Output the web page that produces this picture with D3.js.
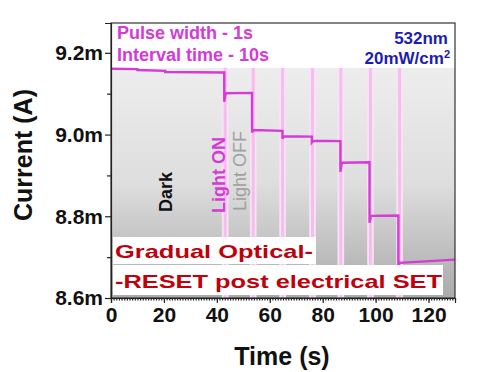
<!DOCTYPE html>
<html><head><meta charset="utf-8">
<script src="https://cdn.jsdelivr.net/npm/d3@7"></script>
<style>
html,body{margin:0;padding:0;background:#fff;}
svg{display:block;font-family:"Liberation Sans",Arial,sans-serif;}
</style></head>
<body>
<svg id="c" width="498" height="372"></svg>
<script>
// ---- data ----
const stepTimes  = [0, 10, 20.5, 42.8, 53.3, 64.8, 75.9, 86.7, 97.7, 108.6];
const levelStart = [9.161, 9.158, 9.153, 9.101, 9.011, 8.996, 8.985, 8.931, 8.801, 8.686];
const levelEnd   = [9.160, 9.156, 9.152, 9.102, 9.009, 8.995, 8.984, 8.932, 8.802, 8.694];
const spikeVals  = [null, null, null, 9.080, 9.005, 8.990, 8.981, 8.909, 8.784, 8.677];
const endTime = 130;
const pulseStarts = [42.3, 52.9, 64.0, 75.3, 86.0, 97.2, 108.2];
const pulseWidth = 1.7;
const xTicks = [0, 20, 40, 60, 80, 100, 120];
const yTicks = [8.6, 8.8, 9.0, 9.2];
const yTickLabels = ["8.6m", "8.8m", "9.0m", "9.2m"];
const yMinor = [8.7, 8.9, 9.1];
const bgTopValue = 9.163;

const svg = d3.select("#c");
const L = 111, R = 455, T = 23, B = 298;
const x = d3.scaleLinear().domain([0, 130]).range([L, R]);
const y = d3.scaleLinear().domain([8.6, 9.273]).range([B, T]);

// gradient
const defs = svg.append("defs");
const g = defs.append("linearGradient").attr("id","bg").attr("x1",0).attr("x2",0).attr("y1",0).attr("y2",1);
g.append("stop").attr("offset","0").attr("stop-color","#ededed");
g.append("stop").attr("offset","0.5").attr("stop-color","#dedede");
g.append("stop").attr("offset","1").attr("stop-color","#aaaaaa");

svg.append("rect").attr("x",L).attr("y",y(bgTopValue)).attr("width",R-L).attr("height",B-y(bgTopValue)).attr("fill","url(#bg)");

// light pulses
const bands = svg.append("g");
pulseStarts.forEach(s=>{
  bands.append("rect").attr("x",x(s-0.4)).attr("y",y(bgTopValue)).attr("width",x(s+pulseWidth+0.4)-x(s-0.4)).attr("height",B-y(bgTopValue)).attr("fill","#f9e2f6");
  bands.append("rect").attr("x",x(s+0.3)).attr("y",y(bgTopValue)).attr("width",x(s+pulseWidth-0.3)-x(s+0.3)).attr("height",B-y(bgTopValue)).attr("fill","#f4bdee");
});

// current trace
const pts = [];
stepTimes.forEach((t,i)=>{
  const tEnd = i < stepTimes.length-1 ? stepTimes[i+1] : endTime;
  if (spikeVals[i] !== null) { pts.push([t, spikeVals[i]]); pts.push([t+0.5, levelStart[i]]); }
  else pts.push([t, levelStart[i]]);
  pts.push([tEnd, levelEnd[i]]);
});
svg.append("path").datum(pts)
  .attr("d", d3.line().x(d=>x(d[0])).y(d=>y(d[1])))
  .attr("fill","none").attr("stroke","#d43cd4").attr("stroke-width",2.4).attr("stroke-linejoin","miter");

// frame
svg.append("rect").attr("x",L).attr("y",T).attr("width",R-L).attr("height",B-T).attr("fill","none").attr("stroke","#333").attr("stroke-width",1.2);

// axes
const xAxis = svg.append("g").attr("transform",`translate(0,${B})`)
  .call(d3.axisBottom(x).tickValues(xTicks).tickFormat(d3.format("d")).tickSize(5).tickPadding(4));
const xMinor = svg.append("g").attr("transform",`translate(0,${B})`)
  .call(d3.axisBottom(x).tickValues(d3.range(0,131,1)).tickFormat("").tickSize(2.5));
xMinor.select(".domain").remove();
const yAxis = svg.append("g").attr("transform",`translate(${L},0)`)
  .call(d3.axisLeft(y).tickValues(yTicks).tickFormat((d,i)=>yTickLabels[i]).tickSize(6).tickPadding(2));
const yMin = svg.append("g").attr("transform",`translate(${L},0)`)
  .call(d3.axisLeft(y).tickValues(yMinor).tickFormat("").tickSize(4));
yMin.select(".domain").remove();
[xAxis,xMinor,yAxis,yMin].forEach(a=>{
  a.selectAll("path,line").attr("stroke","#222").attr("stroke-width",1.2);
});
xAxis.selectAll("text").attr("font-size",21).attr("font-weight","bold").attr("fill","#111").attr("font-family","Liberation Sans, Arial, sans-serif");
yAxis.selectAll("text").attr("font-size",21).attr("font-weight","bold").attr("fill","#111").attr("font-family","Liberation Sans, Arial, sans-serif");

// axis titles
svg.append("text").attr("x",282).attr("y",365).attr("text-anchor","middle").attr("font-size",25).attr("font-weight","bold").attr("fill","#111").text("Time (s)");
svg.append("text").attr("transform","translate(32,155) rotate(-90)").attr("text-anchor","middle").attr("font-size",25).attr("font-weight","bold").attr("fill","#111").text("Current (A)");

// annotations
svg.append("text").attr("x",117).attr("y",39).attr("font-size",18).attr("font-weight","bold").attr("fill","#d63ad6").text("Pulse width - 1s");
svg.append("text").attr("x",117).attr("y",61).attr("font-size",18).attr("font-weight","bold").attr("fill","#d63ad6").text("Interval time - 10s");
svg.append("text").attr("x",448).attr("y",44).attr("text-anchor","end").attr("font-size",17).attr("font-weight","bold").attr("fill","#1c1cb4").text("532nm");
const t2 = svg.append("text").attr("x",450).attr("y",64).attr("text-anchor","end").attr("font-size",17).attr("font-weight","bold").attr("fill","#1c1cb4");
t2.append("tspan").text("20mW/cm");
t2.append("tspan").attr("dy",-6).attr("font-size",11).text("2");

svg.append("text").attr("transform","translate(172,192) rotate(-90)").attr("text-anchor","middle").attr("font-size",18).attr("font-weight","bold").attr("fill","#111").text("Dark");
svg.append("text").attr("transform","translate(225,175) rotate(-90)").attr("text-anchor","middle").attr("font-size",18).attr("font-weight","bold").attr("fill","#d63ad6").text("Light ON");
svg.append("text").attr("transform","translate(246,171) rotate(-90)").attr("text-anchor","middle").attr("font-size",18).attr("fill","#a0a0a0").text("Light OFF");

// red boxed text
svg.append("rect").attr("x",113).attr("y",237).attr("width",203).attr("height",27).attr("fill","#fff");
svg.append("rect").attr("x",113).attr("y",265).attr("width",330).attr("height",30).attr("fill","#fff");
svg.append("text").attr("x",115).attr("y",258).attr("font-size",19).attr("font-weight","bold").attr("fill","#c0000c")
  .attr("textLength",198).attr("lengthAdjust","spacingAndGlyphs").text("Gradual Optical-");
svg.append("text").attr("x",115).attr("y",288).attr("font-size",19).attr("font-weight","bold").attr("fill","#c0000c")
  .attr("textLength",327).attr("lengthAdjust","spacingAndGlyphs").text("-RESET post electrical SET");
</script>
</body></html>
